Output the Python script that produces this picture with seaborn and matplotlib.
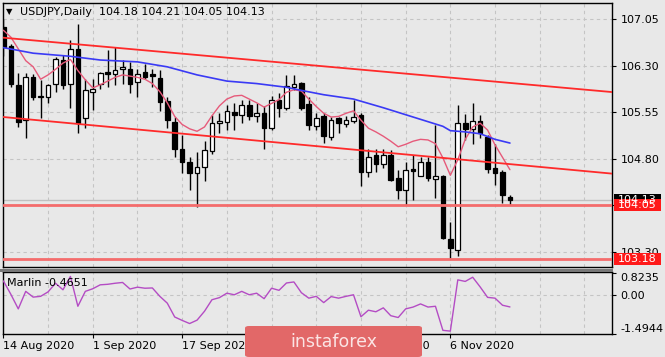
import numpy as np
import matplotlib
matplotlib.use("Agg")
import matplotlib.pyplot as plt
import matplotlib.patches as mpatches
import matplotlib.transforms as mtransforms
import seaborn as sns

# USDJPY daily bars, 14 Aug 2020 .. 18 Nov 2020
opens = [106.93, 106.61, 105.99, 105.42, 106.11, 105.80, 105.79, 106.00, 106.39, 106.01,
         106.56, 105.45, 105.88, 106.00, 106.19, 106.16, 106.24, 106.25, 106.03, 106.19,
         106.16, 106.10, 105.73, 105.39, 104.95, 104.74, 104.56, 104.66, 104.92, 105.38,
         105.39, 105.55, 105.50, 105.66, 105.48, 105.53, 105.29, 105.74, 105.61, 105.96,
         106.02, 105.68, 105.33, 105.48, 105.15, 105.45, 105.36, 105.41, 105.50, 104.59,
         104.85, 104.71, 104.86, 104.48, 104.30, 104.63, 104.52, 104.74, 104.47, 104.52,
         103.50, 103.33, 105.37, 105.27, 105.41, 105.14, 104.64, 104.58, 104.18]
highs = [107.05, 106.65, 106.18, 106.18, 106.17, 106.07, 106.01, 106.44, 106.47, 106.71,
         106.97, 106.09, 106.09, 106.20, 106.55, 106.60, 106.39, 106.36, 106.25, 106.32,
         106.25, 106.23, 105.80, 105.47, 105.18, 104.83, 104.91, 105.09, 105.50, 105.53,
         105.67, 105.69, 105.74, 105.74, 105.69, 105.64, 105.81, 105.85, 106.15, 106.15,
         106.04, 105.80, 105.53, 105.53, 105.47, 105.47, 105.48, 105.75, 105.53, 104.96,
         104.96, 104.96, 104.94, 104.61, 104.75, 104.86, 104.83, 104.83, 105.34, 104.53,
         103.78, 105.66, 105.52, 105.69, 105.50, 105.18, 105.04, 104.61, 104.21]
lows = [106.45, 105.96, 105.31, 105.13, 105.74, 105.45, 105.70, 105.88, 105.93, 105.61,
        105.21, 105.29, 105.58, 105.93, 105.96, 105.99, 106.01, 105.86, 105.80, 106.09,
        105.96, 105.57, 105.30, 104.82, 104.57, 104.29, 104.02, 104.43, 104.88, 105.22,
        105.26, 105.26, 105.37, 105.42, 105.39, 104.96, 105.26, 105.47, 105.59, 105.90,
        105.58, 105.26, 105.26, 105.05, 105.10, 105.21, 105.31, 105.37, 104.35, 104.51,
        104.59, 104.64, 104.43, 104.14, 104.05, 104.13, 104.52, 104.43, 104.17, 103.50,
        103.19, 103.22, 105.10, 105.03, 105.13, 104.57, 104.37, 104.08, 104.05]
closes = [106.60, 106.01, 105.39, 106.11, 105.80, 105.81, 105.99, 106.40, 105.99, 106.56,
          105.37, 105.90, 105.92, 106.18, 106.17, 106.23, 106.27, 106.01, 106.16, 106.12,
          106.14, 105.72, 105.43, 104.95, 104.75, 104.57, 104.66, 104.93, 105.37, 105.41,
          105.57, 105.50, 105.66, 105.48, 105.53, 105.29, 105.74, 105.61, 105.97, 106.01,
          105.61, 105.34, 105.46, 105.16, 105.43, 105.38, 105.43, 105.47, 104.59, 104.83,
          104.71, 104.86, 104.46, 104.30, 104.61, 104.60, 104.74, 104.48, 104.52, 103.51,
          103.35, 105.37, 105.27, 105.41, 105.22, 104.63, 104.57, 104.21, 104.13]

# fast moving average (pink), one value per bar
ma_fast = [106.87, 106.76, 106.57, 106.38, 106.28, 106.08, 106.15, 106.24, 106.34, 106.40,
           106.22, 106.07, 105.94, 105.99, 106.05, 106.11, 106.15, 106.13, 106.11, 106.08,
           106.01, 105.88, 105.70, 105.48, 105.35, 105.28, 105.24, 105.31, 105.49, 105.65,
           105.76, 105.81, 105.82, 105.76, 105.70, 105.63, 105.69, 105.75, 105.87, 105.91,
           105.89, 105.76, 105.64, 105.53, 105.47, 105.48, 105.53, 105.57, 105.42, 105.29,
           105.23, 105.16, 105.08, 104.99, 105.03, 105.08, 105.11, 105.10, 105.04, 104.81,
           104.53, 104.78, 105.11, 105.31, 105.37, 105.26, 105.02, 104.82, 104.62]

# slow moving average (blue), read at some bars
ma_slow_bar = [0, 4, 9, 13, 18, 22, 26, 30, 34, 38, 40, 43, 47, 51, 55, 59, 60, 62, 64, 66, 68]
ma_slow = [106.59, 106.50, 106.45, 106.39, 106.36, 106.28, 106.15, 106.05, 106.01, 105.95,
           105.90, 105.83, 105.76, 105.62, 105.47, 105.32, 105.25, 105.23, 105.20, 105.11, 105.05]

# Marlin oscillator
marlin = [0.53, 0.02, -0.54, 0.13, -0.09, -0.06, 0.11, 0.44, 0.19, 0.70,
          -0.44, 0.13, 0.23, 0.38, 0.40, 0.44, 0.47, 0.22, 0.29, 0.25,
          0.26, -0.06, -0.32, -0.85, -0.98, -1.10, -0.97, -0.63, -0.19, -0.11,
          0.06, 0.00, 0.13, 0.00, 0.06, -0.15, 0.25, 0.17, 0.45, 0.49,
          0.08, -0.13, -0.06, -0.30, -0.07, -0.13, -0.06, 0.00, -0.84, -0.59,
          -0.65, -0.50, -0.80, -0.87, -0.54, -0.47, -0.35, -0.47, -0.44, -1.36,
          -1.39, 0.57, 0.51, 0.67, 0.30, -0.10, -0.13, -0.40, -0.4651]

# channel trend lines: (bar, price) anchors
upper_line = [(0, 106.75), (68, 106.02)]
lower_line = [(0, 105.47), (68, 104.71)]
levels = [104.05, 103.18]
bid = 104.13

price_ticks = [103.30, 104.05, 104.80, 105.55, 106.30, 107.05]
date_ticks = [0, 12, 24, 36, 48, 60]
date_labels = ["14 Aug 2020", "1 Sep 2020", "17 Sep 2020", "5 Oct 2020", "21 Oct 2020", "6 Nov 2020"]

sns.set_theme(style="white")
plt.rcParams['font.family'] = ['DejaVu Sans']
bg = '#e8e8e8'
grid_kw = dict(color='#c4c4c4', lw=0.8, ls=(0, (3, 3)), zorder=0)

W, H = 665, 357
fig = plt.figure(figsize=(W / 100, H / 100), dpi=100, facecolor=bg)
ax = fig.add_axes([3 / W, 1 - 267 / H, 609 / W, 264 / H], facecolor=bg)
ax2 = fig.add_axes([3 / W, 1 - 334 / H, 609 / W, 62 / H], facecolor=bg)

x = np.arange(len(opens))
o, h, l, c = map(np.array, (opens, highs, lows, closes))
xmax = 81.7

# grid
for gx in range(6, 80, 6):
    ax.axvline(gx, **grid_kw)
    ax2.axvline(gx, **grid_kw)
for gy in price_ticks:
    ax.axhline(gy, **grid_kw)
ax2.axhline(0, **grid_kw)

# candles
up = c >= o
bottom = np.minimum(o, c)
height = np.maximum(np.abs(c - o), 0.004)
ax.vlines(x, l, h, color='black', lw=1, zorder=3)
ax.bar(x[up], height[up], bottom=bottom[up], width=0.62, color='white',
       edgecolor='black', lw=0.9, zorder=4)
ax.bar(x[~up], height[~up], bottom=bottom[~up], width=0.62, color='black',
       edgecolor='black', lw=0.9, zorder=4)

# moving averages
sns.lineplot(x=x, y=ma_fast, ax=ax, color='#e65a7a', lw=1, zorder=5, legend=False)
sns.lineplot(x=ma_slow_bar, y=ma_slow, ax=ax, color='#3a3af5', lw=1.2, zorder=5, legend=False)

# objects
ax.axline(upper_line[0], upper_line[1], color='#ff2a2a', lw=1.3, zorder=6)
ax.axline(lower_line[0], lower_line[1], color='#ff2a2a', lw=1.3, zorder=6)
ax.axhline(bid, color='#c0c0c0', lw=1, zorder=2)
for lv in levels:
    ax.axhline(lv, color='#f46c6c', lw=2, zorder=6)

ax.set_xlim(-0.05, xmax)
ax.set_ylim(103.05, 107.31)
ax.yaxis.tick_right()
ax.set_yticks(price_ticks)
# the 104.05 axis label sits under the red level box, so it is left blank
ax.set_yticklabels(["" if v == levels[0] else f"{v:.2f}" for v in price_ticks])
ax.set_xticks([])
ax.tick_params(axis='y', direction='out', length=3, width=0.8, pad=3,
               labelsize=8, colors='black', right=True)
for s in ax.spines.values():
    s.set_color('black')
    s.set_linewidth(1)

# right price labels
bt = mtransforms.blended_transform_factory(ax.transAxes, ax.transData)
lw_ax = 47 / 609
for val, fc in [(bid, 'black'), (levels[0], '#ff1a1a'), (levels[1], '#ff1a1a')]:
    ax.add_patch(mpatches.Rectangle((1 + 1.5 / 609, val - 0.1), lw_ax, 0.2, transform=bt,
                                    facecolor=fc, edgecolor='none', clip_on=False, zorder=10))
    ax.text(1 + 6 / 609, val, f"{val:.2f}", transform=bt, color='white', fontsize=8,
            va='center', ha='left', clip_on=False, zorder=11)

# title
fig.text(6 / W, 1 - 12 / H, "\u25bc", fontsize=6, va='center', ha='left', color='black')
fig.text(20 / W, 1 - 12 / H, "USDJPY,Daily  104.18 104.21 104.05 104.13",
         fontsize=8, va='center', ha='left', color='black')

# oscillator
sns.lineplot(x=x, y=marlin, ax=ax2, color='#b44cc4', lw=1, zorder=5, legend=False)
ax2.set_xlim(-0.05, xmax)
ax2.set_ylim(-1.50, 0.87)
ax2.yaxis.tick_right()
ax2.set_yticks([0.8235, 0.0, -1.4944])
ax2.set_yticklabels(["0.8235", "0.00", "-1.4944"])
labs = ax2.get_yticklabels()
labs[0].set_va('top')
labs[2].set_va('bottom')
ax2.tick_params(axis='y', direction='out', length=3, width=0.8, pad=3,
                labelsize=8, colors='black', right=True)
ax2.set_xticks(date_ticks)
ax2.set_xticklabels(date_labels, ha='left')
ax2.tick_params(axis='x', direction='out', length=3, width=0.8, pad=2,
                labelsize=8, colors='black', bottom=True)
for s in ax2.spines.values():
    s.set_color('black')
    s.set_linewidth(1)
ax2.text(4 / 609, 0.82, "Marlin -0.4651", transform=ax2.transAxes, fontsize=8,
         va='center', ha='left', color='black', zorder=6)

# separator between panels
fig.add_artist(mpatches.Rectangle((0, 1 - 272 / H), 612.5 / W, 3.5 / H, transform=fig.transFigure,
                                  facecolor='#787878', edgecolor='none'))

# watermark
fig.add_artist(mpatches.FancyBboxPatch((245 / W, 0), 177 / W, 31 / H, transform=fig.transFigure,
                                       boxstyle='round,pad=0,rounding_size=0.006',
                                       facecolor='#e26868', edgecolor='none', zorder=20))
fig.text(290 / W, 1 - 342 / H, "instaforex", fontsize=12.5, color='#fbe4e4',
         va='center', ha='left', zorder=21)

fig.savefig("out.png", dpi=100, facecolor=bg)
